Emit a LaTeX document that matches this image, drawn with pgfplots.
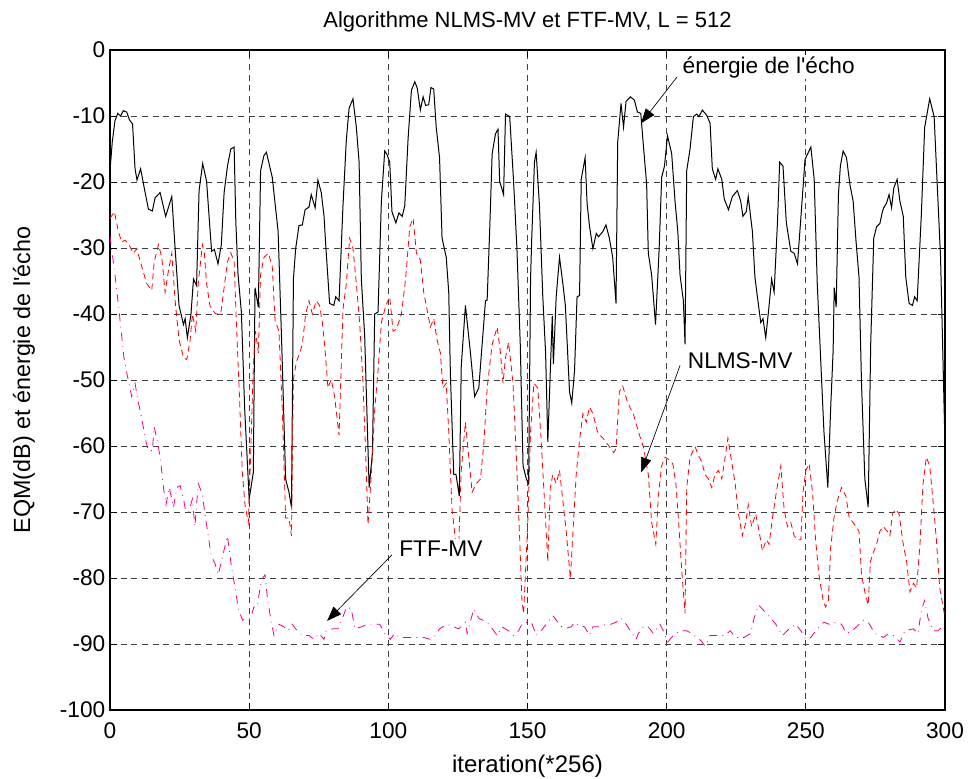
\documentclass[border=0pt]{standalone}
\usepackage{fontspec}
\setmainfont{Liberation Sans}[Ligatures=TeXOff]
\usepackage{pgfplots}
\pgfplotsset{compat=1.18}
\usetikzlibrary{arrows.meta}
\begin{document}
\begin{tikzpicture}
\useasboundingbox (-82.5pt,-51pt) rectangle (644.25pt,532.5pt);
\begin{axis}[
  at={(0,0)}, anchor=south west,
  scale only axis, width=626.25pt, height=495pt,
  xmin=0, xmax=300, ymin=-100, ymax=0,
  xtick={0,50,...,300}, ytick={-100,-90,...,0},
  /pgf/number format/assume math mode=true,
  tick label style={font=\fontsize{17}{20}\selectfont},
  xticklabel style={yshift=-6pt},
  tick align=inside, major tick length=5pt,
  axis line style={line width=0.8pt},
  every tick/.style={black, line width=0.6pt},
  grid=major,
  major grid style={black!75, line width=0.6pt, dash pattern=on 4.5pt off 3.5pt},
  every axis title/.style={at={(axis description cs:0.5,1)}, anchor=base, yshift=17pt, font=\fontsize{16.5}{19}\selectfont},
  every axis x label/.style={at={(axis description cs:0.5,0)}, anchor=base, yshift=-46.5pt, font=\fontsize{18}{21}\selectfont},
  every axis y label/.style={at={(axis description cs:-0.0958,0.5)}, rotate=90, anchor=base, font=\fontsize{17.5}{20}\selectfont},
  title={Algorithme NLMS-MV et FTF-MV, L = 512},
  xlabel={iteration(*256)},
  ylabel={EQM(dB) et énergie de l'écho},
  clip=true,
]
% echo energy
\addplot[black, line width=0.75pt, solid] coordinates {
(0,-18.3) (0.8,-14) (1.8,-10.7) (2.8,-9.6) (3.8,-10) (4.8,-9.2) (6,-9.4) (7,-10.6) (8.1,-11.2) (9,-18) (9.7,-19.7) (11,-18) (12.3,-20.9) (13.8,-24.1) (15.2,-24.4) (16.2,-22.4) (18,-21.6) (20,-25.2) (22.2,-22.2) (23.4,-30.1) (24.8,-38.7) (26.4,-41.6) (27,-40.7) (27.8,-43.6) (29.1,-40) (30,-34.7) (31.1,-35.7) (32,-21.3) (33.3,-17.2) (34.7,-19.9) (36.5,-30.5) (37.5,-30.2) (38.8,-32.4) (40,-29.5) (41,-21.6) (42.2,-17.6) (43.4,-15) (44.6,-14.7) (45.2,-26) (46,-34) (47.2,-39.7) (48.4,-54.5) (50,-68) (51.5,-64) (52.1,-36) (53.3,-39) (54.1,-18.3) (55.3,-16) (56.2,-15.5) (58.3,-19.3) (60.4,-27.5) (61.7,-44.6) (63.1,-65) (64.3,-67) (65.2,-69.3) (65.9,-34.7) (66.7,-30.1) (67.9,-26.6) (69.1,-26.5) (70.1,-24.2) (71.5,-23.8) (72.3,-21.9) (73.7,-23.9) (74.7,-19.7) (75.9,-21.6) (76.9,-25.2)
(77.5,-29.5) (78.9,-38.4) (80.4,-38.7) (81.1,-37.4) (82.3,-38) (83.7,-23.6) (84.9,-13.7) (85.9,-8.8) (87.3,-7.4) (88.5,-11.7) (89.5,-17) (90.3,-34.7) (91.5,-43.3) (93.1,-66.3) (94.3,-61) (95.1,-40) (96.3,-39.7) (97.5,-22.9) (98.7,-15.3) (99.5,-15.8) (100.5,-17) (101.3,-24.5) (102.7,-26.2) (103.8,-24.7) (105,-25.2) (105.9,-23.6) (107.1,-13.4) (108.3,-6.1) (109.5,-4.8) (110.4,-5.8) (111.5,-9.1) (112.5,-7.1) (113.4,-8.4) (114.5,-8.3) (115.3,-5.7) (116.3,-5.9) (117.2,-11.7) (118.4,-16.3) (119.3,-28.5) (120.8,-31.4) (121.7,-36.7) (122.3,-49.2) (123.5,-64.3) (124.3,-64.3) (125.5,-67.6) (126.2,-47.9) (127.7,-38.7) (129.5,-45.9) (131,-52.5) (132.5,-51.2) (133.7,-44.6) (134.9,-38) (135.5,-37.9) (136.4,-27.5) (137.3,-15.7) (138.5,-12.7) (139.4,-12) (140,-19.9) (141.4,-21.9) (142.1,-9.7) (143.6,-10.1) (145,-19.9) (146.2,-30.1) (147.4,-44.6) (148.4,-63) (149.6,-65) (150.4,-65.7) (151.1,-34.7) (151.5,-28.8) (152.5,-17) (153.1,-15.5) (154.3,-23.6) (155.5,-37.4) (156.5,-45.9) (157.3,-59.4) (158.2,-48.6) (158.9,-40.3) (159.3,-47.6) (160.3,-37.4) (161.5,-31.4) (162.7,-35.4) (163.6,-38.7) (165.1,-51.8) (165.9,-53.5) (166.9,-48.6) (167.8,-37.4) (168.7,-37.2) (169.3,-19.6) (170.7,-16.3) (171.4,-23.2) (172.3,-26.8) (173.5,-30.1) (174.7,-27.8) (175.5,-28.3) (177.1,-27.5) (178.2,-26.5) (179.4,-28.5) (180.6,-31.4) (181.8,-38.4) (182.4,-14) (183.6,-8.1) (184.5,-11.7) (185.4,-7.8) (187,-7.1) (188.4,-7.6) (189.5,-9.4) (190.7,-9.6) (191.6,-14.3) (192.8,-20.3) (193.4,-30.8) (194.6,-34.1) (196,-41.6) (197.3,-30.1) (198.2,-19.3) (199.2,-17.6) (200.3,-13) (201.8,-15.7) (203,-22.9) (204,-27.5) (204.8,-34.1) (206,-38) (206.6,-44.6) (207.2,-18.3) (208.4,-15) (209.6,-10.1) (210.8,-9.7) (211.6,-10.1) (212.8,-9.1) (214.4,-9.9) (215.6,-11.1) (216.4,-18) (217.6,-19.6) (218.4,-18) (219.8,-19.6) (220.7,-22.6) (222.2,-24.2) (223.6,-22.2) (225.4,-21.3) (226.6,-22.9) (227.4,-25.2) (228.6,-24.5) (229.3,-22.2) (230.8,-27.5) (231.7,-34.4) (232.6,-37.4) (233.8,-41.3) (234.6,-40.7) (235.6,-43.6) (236.8,-38.7) (237.7,-34.7) (238.6,-36.7) (239.8,-26.2) (240.6,-17) (241.8,-17.6) (243,-26.2) (244.6,-30.5) (245.8,-30.8) (247,-32.4) (248.2,-25.5) (249.7,-16.6) (251.8,-14.7) (253,-19.6) (254.1,-35.4) (255.3,-46.6) (256.5,-57.8) (257.9,-66.3) (258.9,-54.5) (259.8,-45.6) (260.2,-36) (260.9,-39) (261.7,-22) (262.4,-17.6) (263.4,-15.3) (264.6,-16.3) (265.8,-20.3) (267,-22.9) (268,-28.8) (269.1,-34.4) (270,-50.5) (271.2,-65) (272.4,-69.3) (273.3,-44.6) (274.4,-28.5) (275.4,-26.8) (276.6,-26.3) (277.5,-24.5) (278,-23.9) (279,-23.2) (279.9,-21.9) (280.8,-23.9) (281.6,-20.9) (282.8,-19.6) (283.8,-22.9) (285,-25.2) (285.9,-34.4) (287.1,-38.4) (288.3,-38.7) (289.1,-37.4) (290,-38) (291.5,-24.9) (292.7,-11.7) (294.5,-7.4) (296.1,-10.1) (296.9,-17.6) (298.4,-31.4) (300,-60)
};
% NLMS-MV
\addplot[red, line width=0.6pt, dash pattern=on 4.5pt off 3pt] coordinates {
(0,-25.5) (1.6,-24.5) (3,-27.5) (4.2,-29.1) (5.4,-28.8) (6.8,-29.5) (8.4,-30.8) (9.6,-30.1) (11.4,-32.8) (13.2,-35.4) (15,-36.4) (15.9,-32.1) (17.4,-29.5) (18.6,-31.4) (19.8,-36.7) (21,-33.4) (22.2,-30.8) (23.4,-38) (24.8,-43.9) (26.4,-46.6) (27.6,-46.9) (28.8,-43.9) (29.6,-40) (30.8,-42.6) (31.7,-35.4) (33.2,-29.5) (33.9,-30.8) (34.7,-35.4) (35.9,-38.7) (37,-39.5) (38,-40) (39.8,-39.9) (41,-36) (42.2,-32.1) (43.4,-30.7) (44.6,-32.1) (45.4,-41.3) (46.4,-51.2) (47.5,-63.7) (48.5,-68.9) (49.7,-71.6) (50.5,-61.7) (51.5,-47.9) (52.3,-42.6) (53.3,-45.9) (54.1,-34.1) (55.3,-31.4) (56.9,-30.8) (58.3,-32.8) (59.3,-41) (60.7,-42.6) (61.9,-54.5) (63.1,-70.9) (64.3,-70.9) (65.2,-73.6) (65.9,-49.9) (67,-47.2) (68.2,-45.9) (69.1,-44.6) (70.3,-40) (71.5,-38) (72.7,-40) (74.1,-38) (75.3,-38.7) (76.3,-41.3) (77.1,-44.6) (78.3,-51.2) (79.5,-49.9) (80.7,-52.5) (82.3,-58.4) (83.7,-39.3) (84.9,-35.4) (86.1,-28.5) (87.3,-30.1) (88.5,-35.4) (89.7,-41.3) (90.9,-50.5) (91.9,-61.7) (92.7,-71.9) (93.9,-64.3) (95.1,-54.5) (96.3,-48.6) (97.5,-41.3) (99.1,-38.7) (100.5,-37.4) (101.7,-42.6) (102.9,-42.3) (104.7,-40) (106.2,-34.7) (107.7,-26.8) (108.9,-25.5) (110.1,-30.8) (111.5,-31.8) (112.7,-36.7) (113.9,-39.3) (115.1,-42) (116.3,-40.7) (117.5,-43.9) (118.7,-45.9) (119.6,-51.2) (120.8,-50.5) (121.7,-57.8) (122.9,-69.6) (124.1,-74.2) (125.3,-74.9) (126.2,-63.7) (127.7,-56.4) (128.9,-61.7) (130.1,-67) (131.6,-65.7) (133.1,-65) (134.3,-59.7) (135.5,-51.2) (137.3,-44.6) (139.1,-42) (140.3,-45.9) (141.2,-50.5) (142.1,-46.6) (143.2,-44.3) (144.8,-50.5) (146,-61.7) (147.2,-74.2) (148,-83.4) (148.6,-85.4) (149.1,-80.8) (150.1,-71.6) (151.1,-57.8) (152.3,-50.5) (153.7,-51.2) (154.9,-59.1) (156.1,-68.3) (157.3,-77.5) (158.2,-66.3) (159.1,-64.3) (160.3,-65.7) (161.5,-63.7) (162.7,-68.3) (163.9,-72.9) (165.4,-80.1) (166.6,-70.9) (167.5,-64.3) (168.7,-59.1) (169.9,-55.1) (171.1,-56.4) (172.3,-54.1) (173.5,-55.1) (175.3,-58.1) (177.1,-58.8) (179.4,-60.1) (181,-61) (181.8,-60.4) (183,-51.8) (184.2,-50.9) (185.8,-53.2) (187.2,-54.5) (188,-55.1) (189.8,-57.8) (191.6,-60.1) (193.4,-64.3) (194.6,-71.6) (196.1,-74.9) (197,-67.6) (198.2,-63) (199.4,-61.7) (200.6,-62) (202.2,-62.7) (203.3,-65.7) (204.2,-70.9) (205.4,-78.8) (206.6,-85.4) (207.2,-66.3) (208.4,-61.7) (210.2,-60.1) (211.4,-61.4) (212.6,-62.4) (213.8,-64.3) (215,-65) (216.2,-66.3) (217.4,-64.3) (218.6,-63.7) (219.8,-65) (221,-61.7) (222,-58.8) (223.1,-61.7) (224.6,-65.7) (225.8,-70.3) (227.2,-73.6) (228.4,-71.6) (229.3,-68.9) (230.5,-72.2) (232,-70.3) (233.2,-72.9) (234.4,-75.9) (235.8,-74.2) (236.8,-74.9) (238,-70.9) (239.4,-67) (241,-63) (242.2,-69.6) (243.4,-72.2) (244.6,-71.6) (245.8,-73.6) (247,-74.2) (248.2,-74.2) (249,-67) (250,-63.7) (251.2,-62.7) (252.4,-67) (253.5,-74.2) (254.7,-79.5) (256.2,-83.4) (257.1,-84.4) (258.1,-83.4) (258.9,-75.5) (260.1,-70.9) (261.3,-68.3) (262.8,-66.3) (264.4,-67.6) (265.6,-70.9) (267,-71.6) (269.1,-72.9) (270,-79.5) (271.2,-82.1) (272.4,-84.1) (273.2,-77.5) (274.2,-76.2) (275.4,-74.9) (276.6,-72.9) (277.8,-72.2) (279.2,-72.9) (280.2,-73.6) (281.1,-70.3) (282.3,-69.6) (283.5,-70.3) (285,-74.9) (286.2,-77.5) (287.4,-82.1) (288.6,-80.8) (289.8,-81.5) (291,-74.9) (292.1,-65.7) (293.3,-61.7) (294.5,-63) (295.7,-68.3) (296.9,-74.2) (298.1,-81.5) (300,-86)
};
% FTF-MV
\addplot[magenta, line width=0.6pt, dash pattern=on 6pt off 4pt on 0.6pt off 4pt] coordinates {
(0,-28.2) (1.8,-34.1) (3.2,-39.3) (4.2,-43.3) (5,-46.6) (6.3,-49.5) (7.8,-52.5) (9,-50.5) (9.9,-52.8) (11.4,-55.8) (12.8,-59.1) (13.8,-60.7) (15.2,-60.7) (15.9,-57.1) (17.4,-60.1) (18.3,-62.7) (19.2,-66.3) (20.1,-68.9) (21.3,-66.3) (22.8,-69.3) (24,-66.3) (25.2,-66) (26.4,-68) (27.2,-69.9) (28.4,-69.9) (29.6,-68) (30.5,-72.2) (31.7,-65.7) (33.2,-67.3) (34.1,-70.3) (35.3,-73.6) (36.3,-76.5) (37.7,-77.8) (38.9,-79.5) (40.4,-76.8) (42.2,-73.6) (43.7,-78.5) (45.2,-82.1) (46.1,-84.7) (47.6,-86.4) (49.3,-86.1) (50.5,-86.1) (51.7,-84.4) (52.9,-84.4) (53.9,-81.5) (54.7,-80.1) (55.7,-79.5) (56.5,-82.8) (57.7,-86.1) (58.9,-88.7) (60.7,-87) (62.5,-87.4) (64,-88) (65.5,-87) (66.7,-87.7) (69.1,-88.7) (71.5,-88.7) (73.3,-89.3) (75.1,-88.4) (76.9,-89.3) (77.7,-88) (80.1,-87.7) (81.9,-87.7) (83.5,-86.1) (85,-84.4) (86.7,-84.7) (88,-87.7) (90.3,-87.4) (92.7,-87) (95.1,-87) (96.9,-87) (98.7,-88.4) (100.7,-89.3) (102.3,-88.4) (104.1,-89) (105.9,-89) (107.7,-89) (110.1,-89) (112.7,-89) (115.1,-89.3) (116.9,-88.7) (118.4,-87.7) (121.1,-87) (123.5,-87.4) (125.3,-87.7) (127.7,-86.7) (128.3,-88.4) (130.7,-84.7) (132.5,-86.1) (134.5,-86.5) (136.1,-87) (137.9,-88) (139.1,-88.7) (140.8,-87.4) (143.2,-88) (145,-88.7) (146.8,-88) (148,-87) (149.8,-86.7) (151.5,-86.8) (153.1,-88.7) (154.9,-88) (157.3,-86.7) (159.1,-85.7) (160.9,-86.7) (162.3,-87.4) (164,-87.6) (165.7,-87.4) (166.9,-86.7) (168.5,-87.2) (170.5,-87.4) (172.3,-88.7) (173.5,-87.4) (176.5,-87.4) (178.2,-87) (180,-87) (181.8,-86.7) (183.6,-86.1) (185.4,-87) (187.6,-88.4) (189,-89.3) (189.8,-88.4) (191.6,-87.4) (193.4,-87.4) (195.2,-88.4) (197.6,-87) (198.8,-88) (200.4,-89.7) (202.4,-88.7) (204.8,-88) (207.2,-88) (209,-88.4) (210.8,-89) (212.3,-89.5) (213.8,-90.3) (215.6,-88.7) (218,-88.7) (221,-88.7) (222.8,-88) (224.8,-89) (227.8,-89) (230.2,-88.4) (231.4,-86.1) (233,-84.1) (234.4,-84.7) (236,-85.5) (237.4,-86.1) (239.2,-87) (241.6,-88.7) (244,-87.7) (246.4,-87) (248.2,-88) (250,-89.3) (251.8,-89) (254.1,-87.7) (256.5,-86.7) (258.3,-87) (259.8,-86.7) (262.8,-87) (264.6,-88.4) (266.5,-88) (268.2,-87.4) (270.6,-86.4) (272.4,-86.7) (274.8,-88.4) (277.8,-89) (279.5,-88.5) (281.4,-88.7) (283.8,-89.7) (285.6,-88) (288.6,-87.7) (290.3,-88.4) (291.3,-85.5) (292.1,-84.1) (292.7,-83.4) (293.9,-86.1) (295.7,-88) (297.5,-88) (300,-87)
};
% annotations
\node[font=\fontsize{17}{20}\selectfont, fill=white, inner sep=1pt, anchor=west] at (axis cs:205.2,-2.6) {énergie de l'écho};
\draw[black, line width=0.5pt, -{Triangle[length=11pt,width=8pt]}] (axis cs:203.7,-4.1) -- (axis cs:190.8,-11.1);
\node[font=\fontsize{17}{20}\selectfont, fill=white, inner sep=1pt] at (axis cs:226.4,-47) {NLMS-MV};
\draw[black, line width=0.5pt, -{Triangle[length=11pt,width=8pt]}] (axis cs:204.8,-47.8) -- (axis cs:190.8,-64);
\node[font=\fontsize{17}{20}\selectfont, fill=white, inner sep=1pt] at (axis cs:118.9,-75.5) {FTF-MV};
\draw[black, line width=0.5pt, -{Triangle[length=11pt,width=8pt]}] (axis cs:101.3,-76.5) -- (axis cs:78,-86.5);
\end{axis}
\end{tikzpicture}
\end{document}
